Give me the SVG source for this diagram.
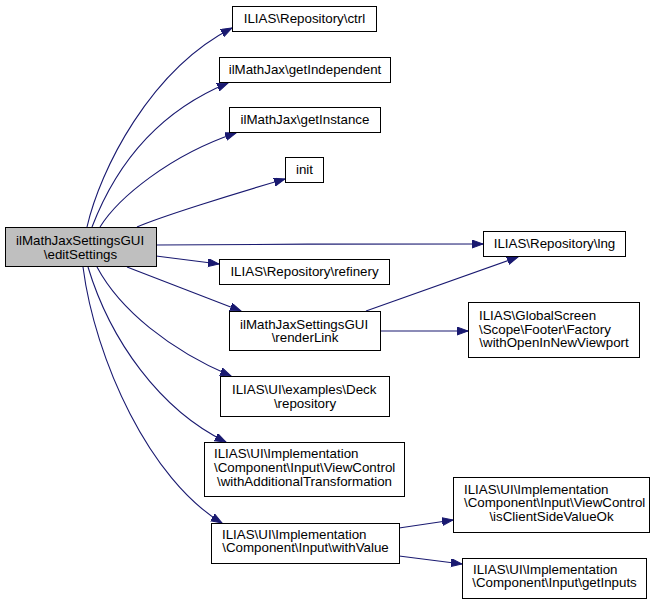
<svg xmlns="http://www.w3.org/2000/svg" width="660" height="605" viewBox="0 0 660 605">
<defs>
<marker id="arr" markerUnits="userSpaceOnUse" markerWidth="12" markerHeight="9" refX="11" refY="4" orient="auto">
<path d="M0,0 L11,4 L0,8 z" fill="#191970" stroke="#191970" stroke-width="1"/>
</marker>
</defs>
<style>
.n rect{fill:#ffffff;stroke:#000000;stroke-width:1}
.n text{font-family:"Liberation Sans",Arial,Helvetica,sans-serif;font-size:13.33px;fill:#000000}
.c{text-anchor:middle}
#edges path{fill:none;stroke:#191970;stroke-width:1.1;marker-end:url(#arr)}
</style>
<rect x="0" y="0" width="660" height="605" fill="#ffffff"/>
<g id="edges">
<path d="M87,227 C100,170 150,70 232,28"/>
<path d="M92,227 C112,175 150,115 228,83"/>
<path d="M100,227 C118,198 170,155 236,133"/>
<path d="M137,227 C160,217 230,195 285,179"/>
<path d="M156,245 C250,244 400,244 483,244"/>
<path d="M156,256 L219,264"/>
<path d="M127,267 L241,311"/>
<path d="M97,267 C120,310 170,350 231,376"/>
<path d="M88,267 C110,340 160,410 226,442"/>
<path d="M83,267 C95,360 150,480 222,523"/>
<path d="M366,311 L518,257"/>
<path d="M380,331 L468,331"/>
<path d="M399,528 L453,520"/>
<path d="M399,556 L462,564"/>
</g>
<g id="main" class="n">
<rect x="5.5" y="227.5" width="151" height="39" style="fill:#bfbfbf"/>
<text x="16" y="245">ilMathJaxSettingsGUI</text>
<text x="80.5" y="258.5" class="c">\editSettings</text>
</g>
<g id="ctrl" class="n">
<rect x="232.5" y="6.5" width="144" height="25"/>
<text x="304.5" y="23" class="c">ILIAS\Repository\ctrl</text>
</g>
<g id="getIndependent" class="n">
<rect x="219.5" y="57.5" width="171" height="25"/>
<text x="305" y="74" class="c">ilMathJax\getIndependent</text>
</g>
<g id="getInstance" class="n">
<rect x="229.5" y="107.5" width="151" height="25"/>
<text x="305" y="124" class="c">ilMathJax\getInstance</text>
</g>
<g id="init" class="n">
<rect x="285.5" y="157.5" width="38" height="25"/>
<text x="304.5" y="174" class="c">init</text>
</g>
<g id="lng" class="n">
<rect x="483.5" y="231.5" width="142" height="25"/>
<text x="554.5" y="248" class="c">ILIAS\Repository\lng</text>
</g>
<g id="refinery" class="n">
<rect x="219.5" y="259.5" width="170" height="25"/>
<text x="304.5" y="276" class="c">ILIAS\Repository\refinery</text>
</g>
<g id="renderLink" class="n">
<rect x="229.5" y="311.5" width="151" height="39"/>
<text x="240" y="328.5">ilMathJaxSettingsGUI</text>
<text x="305" y="342" class="c">\renderLink</text>
</g>
<g id="footer" class="n">
<rect x="468.5" y="302.5" width="171" height="55"/>
<text x="479" y="320">ILIAS\GlobalScreen</text>
<text x="479" y="333.5">\Scope\Footer\Factory</text>
<text x="554" y="347" class="c">\withOpenInNewViewport</text>
</g>
<g id="deck" class="n">
<rect x="220.5" y="376.5" width="169" height="40"/>
<text x="232" y="394">ILIAS\UI\examples\Deck</text>
<text x="305" y="407.5" class="c">\repository</text>
</g>
<g id="withAdditionalTransformation" class="n">
<rect x="204.5" y="442.5" width="200" height="54"/>
<text x="214" y="458">ILIAS\UI\Implementation</text>
<text x="214" y="471.5">\Component\Input\ViewControl</text>
<text x="304.5" y="485.5" class="c">\withAdditionalTransformation</text>
</g>
<g id="withValue" class="n">
<rect x="211.5" y="523.5" width="188" height="40"/>
<text x="222" y="538.5">ILIAS\UI\Implementation</text>
<text x="305.5" y="552" class="c">\Component\Input\withValue</text>
</g>
<g id="isClientSideValueOk" class="n">
<rect x="453.5" y="477.5" width="196" height="55"/>
<text x="464" y="493.5">ILIAS\UI\Implementation</text>
<text x="464" y="507">\Component\Input\ViewControl</text>
<text x="551.5" y="520.5" class="c">\isClientSideValueOk</text>
</g>
<g id="getInputs" class="n">
<rect x="462.5" y="558.5" width="184" height="40"/>
<text x="473" y="573.5">ILIAS\UI\Implementation</text>
<text x="554.5" y="587" class="c">\Component\Input\getInputs</text>
</g>
</svg>
